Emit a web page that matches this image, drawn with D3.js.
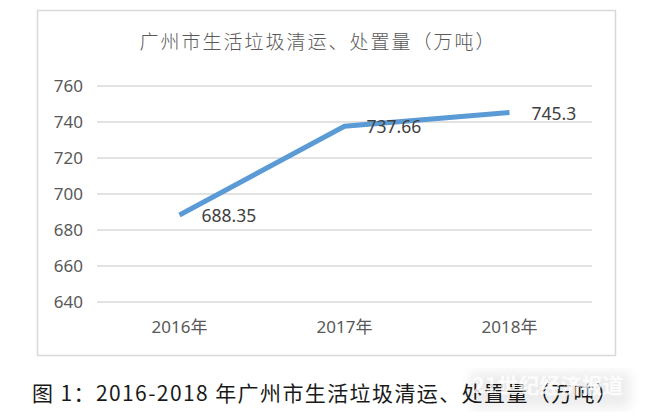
<!DOCTYPE html>
<html><head><meta charset="utf-8">
<script src="https://cdn.jsdelivr.net/npm/d3@7"></script>
<style>body{margin:0;background:#fff;}svg{display:block;}</style>
</head><body>
<svg id="c" width="652" height="420"></svg>
<script>
const categories = ["2016年", "2017年", "2018年"];
const values = [688.35, 737.66, 745.3];
const valueLabels = ["688.35", "737.66", "745.3"];
const yTicks = [640, 660, 680, 700, 720, 740, 760];
const title = "广州市生活垃圾清运、处置量（万吨）";
const caption = "图 1：2016-2018 年广州市生活垃圾清运、处置量（万吨）";

const svg = d3.select("#c");
const numFont = "'Noto Sans','Noto Sans CJK SC',sans-serif";
const cjkFont = "'Noto Sans CJK SC',sans-serif";

// frame
svg.append("rect").attr("x", 37.5).attr("y", 10.5).attr("width", 578).attr("height", 345)
  .attr("fill", "#fff").attr("stroke", "#d9d9d9").attr("stroke-width", 1.5);

const x = d3.scaleBand().domain(categories).range([97, 592]);
const y = d3.scaleLinear().domain([640, 760]).range([302, 86]);

// grid
svg.append("g").selectAll("line").data(yTicks).join("line")
  .attr("x1", 97).attr("x2", 592)
  .attr("y1", d => y(d)).attr("y2", d => y(d))
  .attr("stroke", "#d9d9d9").attr("stroke-width", 1.5);

// y axis
const yAxis = d3.axisLeft(y).tickValues(yTicks).tickSize(0).tickPadding(0);
const ya = svg.append("g").attr("transform", "translate(83,0)").call(yAxis);
ya.select(".domain").remove();
ya.selectAll("text").attr("font-family", numFont).attr("font-size", 17)
  .attr("fill", "#595959").attr("dy", "0.35em");

// x axis
const xAxis = d3.axisBottom(x).tickSize(0).tickPadding(0);
const xa = svg.append("g").attr("transform", "translate(0,327)").call(xAxis);
xa.select(".domain").remove();
xa.selectAll("text").attr("font-family", numFont).attr("font-size", 17)
  .attr("fill", "#595959").attr("dy", "0.35em").attr("y", 0);

// line
const pts = categories.map((c, i) => [x(c) + x.bandwidth() / 2, y(values[i])]);
svg.append("path").attr("d", d3.line()(pts)).attr("fill", "none")
  .attr("stroke", "#5b9bd5").attr("stroke-width", 5).attr("stroke-linejoin", "round");

// value labels (right of point)
svg.selectAll("text.val").data(values).join("text")
  .attr("class", "val")
  .attr("x", (d, i) => pts[i][0] + 22)
  .attr("y", (d, i) => pts[i][1] + 1)
  .attr("font-family", numFont).attr("font-size", 17.5)
  .attr("fill", "#404040").attr("dy", "0.35em")
  .text((d, i) => valueLabels[i]);

// title
svg.append("text").attr("x", 318).attr("y", 42).attr("dy", "0.35em").attr("text-anchor", "middle")
  .attr("font-family", cjkFont).attr("font-size", 19).attr("font-weight", 300)
  .attr("letter-spacing", 2).attr("fill", "#595959").text(title);

// caption
svg.append("text").attr("x", 32).attr("y", 394).attr("dy", "0.35em")
  .attr("font-family", cjkFont).attr("font-size", 21)
  .attr("letter-spacing", 1.4)
  .attr("fill", "#1a1a1a").text(caption);

// watermark
const defs = svg.append("defs");
defs.append("filter").attr("id", "blur").append("feGaussianBlur").attr("stdDeviation", 6);
svg.append("rect").attr("x", 470).attr("y", 372).attr("width", 160).attr("height", 36)
  .attr("fill", "#000").attr("opacity", 0.07).attr("filter", "url(#blur)");
svg.append("text").attr("x", 548).attr("y", 393).attr("text-anchor", "middle")
  .attr("font-family", cjkFont).attr("font-size", 21).attr("font-weight", 700)
  .attr("fill", "#fff").attr("opacity", 0.8).text("21世纪经济报道");
</script>
</body></html>
